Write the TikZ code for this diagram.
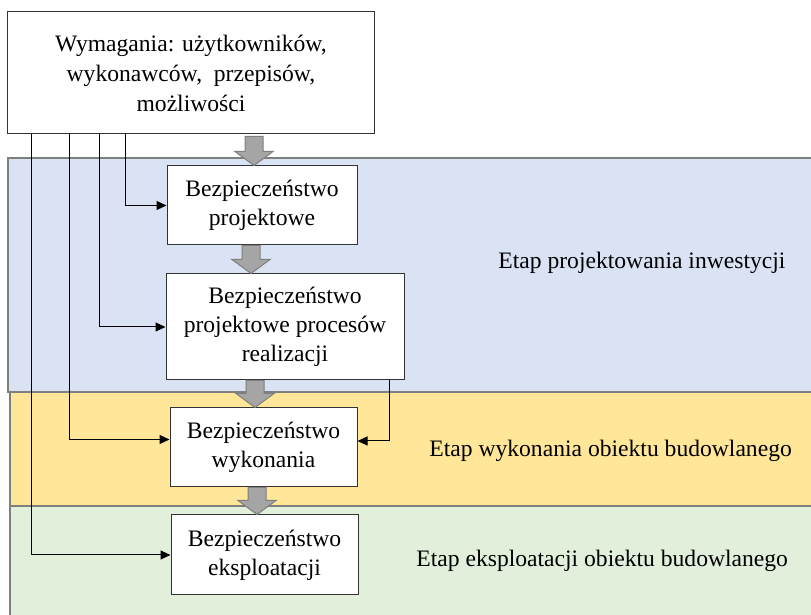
\documentclass[tikz,border=0pt]{standalone}
\usepackage{fontspec}
\setmainfont{Liberation Serif}
\usetikzlibrary{calc,arrows.meta}
\definecolor{bandblue}{HTML}{DAE3F3}
\definecolor{bandyellow}{HTML}{FFE699}
\definecolor{bandgreen}{HTML}{E2EFDA}
\definecolor{bandedge}{HTML}{7F7F7F}
\definecolor{blockfill}{HTML}{A5A5A5}
% wide grey block arrow from #1 (top of shaft) down to #2 (tip)
\newcommand{\grayflow}[2]{%
  \draw[blockarr] ($(#1)+(-9,0)$) -- ($(#2)+(-9,-14)$) -- ($(#2)+(-19,-14)$)
    -- (#2) -- ($(#2)+(19,-14)$) -- ($(#2)+(9,-14)$) -- ($(#1)+(9,0)$) -- cycle;}
\begin{document}
\begin{tikzpicture}[x=0.5pt,y=-0.5pt,
  band/.style={draw=bandedge, line width=0.8pt},
  stepbox/.style={draw=black!80, line width=0.5pt, fill=white, align=center,
    inner sep=0pt, font=\fontsize{11.8pt}{14.4pt}\selectfont},
  feed/.style={draw=black, line width=0.5pt, -{Triangle[length=5pt,width=4.5pt]}},
  blockarr/.style={fill=blockfill, draw=bandedge, line width=0.5pt, line join=miter},
  stage/.style={font=\fontsize{11.8pt}{14pt}\selectfont, anchor=base west, inner sep=0pt}]
\useasboundingbox (0,0) rectangle (811,615);
\clip (0,0) rectangle (811,615);

% stage bands
\draw[band, fill=bandblue]   (8,158)  rectangle (830,392);
\draw[band, fill=bandyellow] (10,392) rectangle (830,506);
\draw[band, fill=bandgreen]  (10,506) rectangle (830,640);

% stage labels
\node[stage] (l1) at (498,269) {Etap projektowania inwestycji};
\node[stage] (l2) at (429,457) {Etap wykonania obiektu budowlanego};
\node[stage] (l3) at (416,567) {Etap eksploatacji obiektu budowlanego};

% boxes
\node[stepbox, minimum width=183pt, minimum height=61pt,
  font=\fontsize{11.8pt}{15pt}\selectfont] (top) at (191,73)
  {Wymagania: użytkowników,\\ wykonawców,\ \ przepisów,\\ możliwości};
\node[stepbox, minimum width=95pt, minimum height=39.5pt] (b1) at (262,205.5)
  {Bezpieczeństwo\\ projektowe};
\node[stepbox, minimum width=119pt, minimum height=53pt] (b2) at (285,327)
  {Bezpieczeństwo\\ projektowe procesów\\ realizacji};
\node[stepbox, minimum width=93.5pt, minimum height=39.5pt] (b3) at (263.5,447.5)
  {Bezpieczeństwo\\ wykonania};
\node[stepbox, minimum width=93.5pt, minimum height=40pt] (b4) at (264.5,555)
  {Bezpieczeństwo\\ eksploatacji};

% grey flow arrows between boxes
\coordinate (x1) at (254,0);
\coordinate (x2) at (251,0);
\coordinate (x3) at (255,0);
\coordinate (x4) at (257,0);
\coordinate (s1) at ($(top.south -| x1)+(0,2)$);
\coordinate (t1) at (b1.north -| x1);
\coordinate (s2) at (b1.south -| x2);
\coordinate (t2) at (b2.north -| x2);
\coordinate (s3) at (b2.south -| x3);
\coordinate (t3) at (b3.north -| x3);
\coordinate (s4) at (b4.north -| x4);
\coordinate (s4a) at (b3.south -| x4);
\grayflow{s1}{t1}
\grayflow{s2}{t2}
\grayflow{s3}{t3}
\grayflow{s4a}{s4}

% requirement feeds from the top box
\coordinate (d1) at (31,0);
\coordinate (d2) at (69,0);
\coordinate (d3) at (99,0);
\coordinate (d4) at (125,0);
\draw[feed] (top.south -| d4) |- (b1.west);
\draw[feed] (top.south -| d3) |- (b2.west);
\draw[feed] (top.south -| d2) |- ($(b3.west)+(0,-8)$);
\draw[feed] (top.south -| d1) |- (b4.west);

% feed from realisation design to execution
\coordinate (r1) at (389,0);
\draw[feed] (b2.south -| r1) |- ($(b3.east)+(0,-6.5)$);
\end{tikzpicture}
\end{document}
